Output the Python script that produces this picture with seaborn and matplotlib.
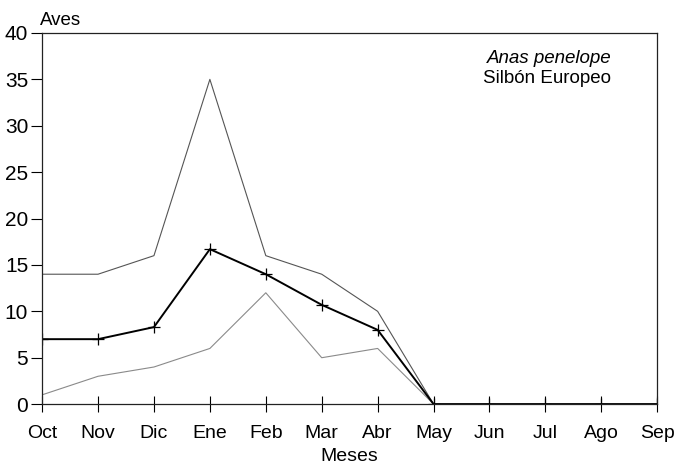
import matplotlib
matplotlib.use("Agg")
import matplotlib.pyplot as plt
import seaborn as sns
import pandas as pd

# Monthly counts of Anas penelope
meses = ['Oct', 'Nov', 'Dic', 'Ene', 'Feb', 'Mar', 'Abr', 'May', 'Jun', 'Jul', 'Ago', 'Sep']
maximo = [14, 14, 16, 35, 16, 14, 10, 0, 0, 0, 0, 0]
media = [7, 7, 8.3, 16.7, 14, 10.7, 8, 0, 0, 0, 0, 0]
minimo = [1, 3, 4, 6, 12, 5, 6, 0, 0, 0, 0, 0]

df = pd.DataFrame({'mes': range(len(meses)), 'max': maximo, 'media': media, 'min': minimo})

sns.set_style("white")
plt.rcParams['font.family'] = ['Liberation Sans', 'DejaVu Sans']
plt.rcParams['text.color'] = 'black'
plt.rcParams['xtick.color'] = 'black'
plt.rcParams['ytick.color'] = 'black'
plt.rcParams['axes.labelcolor'] = 'black'

fig = plt.figure(figsize=(6.79, 4.71), dpi=100)
ax = fig.add_axes([0.062, 0.142, 0.906, 0.788])

sns.lineplot(x='mes', y='max', data=df, ax=ax, color='#555555', linewidth=0.8)
sns.lineplot(x='mes', y='min', data=df, ax=ax, color='#8a8a8a', linewidth=0.8)
sns.lineplot(x='mes', y='media', data=df, ax=ax, color='black', linewidth=1.4,
             marker='+', markersize=9, markeredgewidth=0.9, markeredgecolor='black')

ax.set_xlim(0, 11)
ax.set_ylim(0, 40)
ax.set_xticks(range(len(meses)))
ax.set_xticklabels(meses)
ax.set_yticks(range(0, 41, 5))
ax.tick_params(axis='x', bottom=True, direction='inout', length=12, width=0.8,
               labelsize=14, pad=9)
ax.tick_params(axis='y', left=True, direction='out', length=8, width=0.8,
               labelsize=15, pad=2)
for s in ax.spines.values():
    s.set_color('#222222')
    s.set_linewidth(0.9)

ax.set_xlabel('Meses', fontsize=14, labelpad=4)
ax.set_ylabel('')
ax.text(-0.003, 1.012, 'Aves', transform=ax.transAxes, fontsize=13.5, ha='left', va='bottom')

ax.text(0.925, 0.93, 'Anas penelope', transform=ax.transAxes, fontsize=13.5,
        style='italic', ha='right', va='center')
ax.text(0.925, 0.877, 'Silbón Europeo', transform=ax.transAxes, fontsize=13.5,
        ha='right', va='center')

fig.savefig('out.png', dpi=100)
